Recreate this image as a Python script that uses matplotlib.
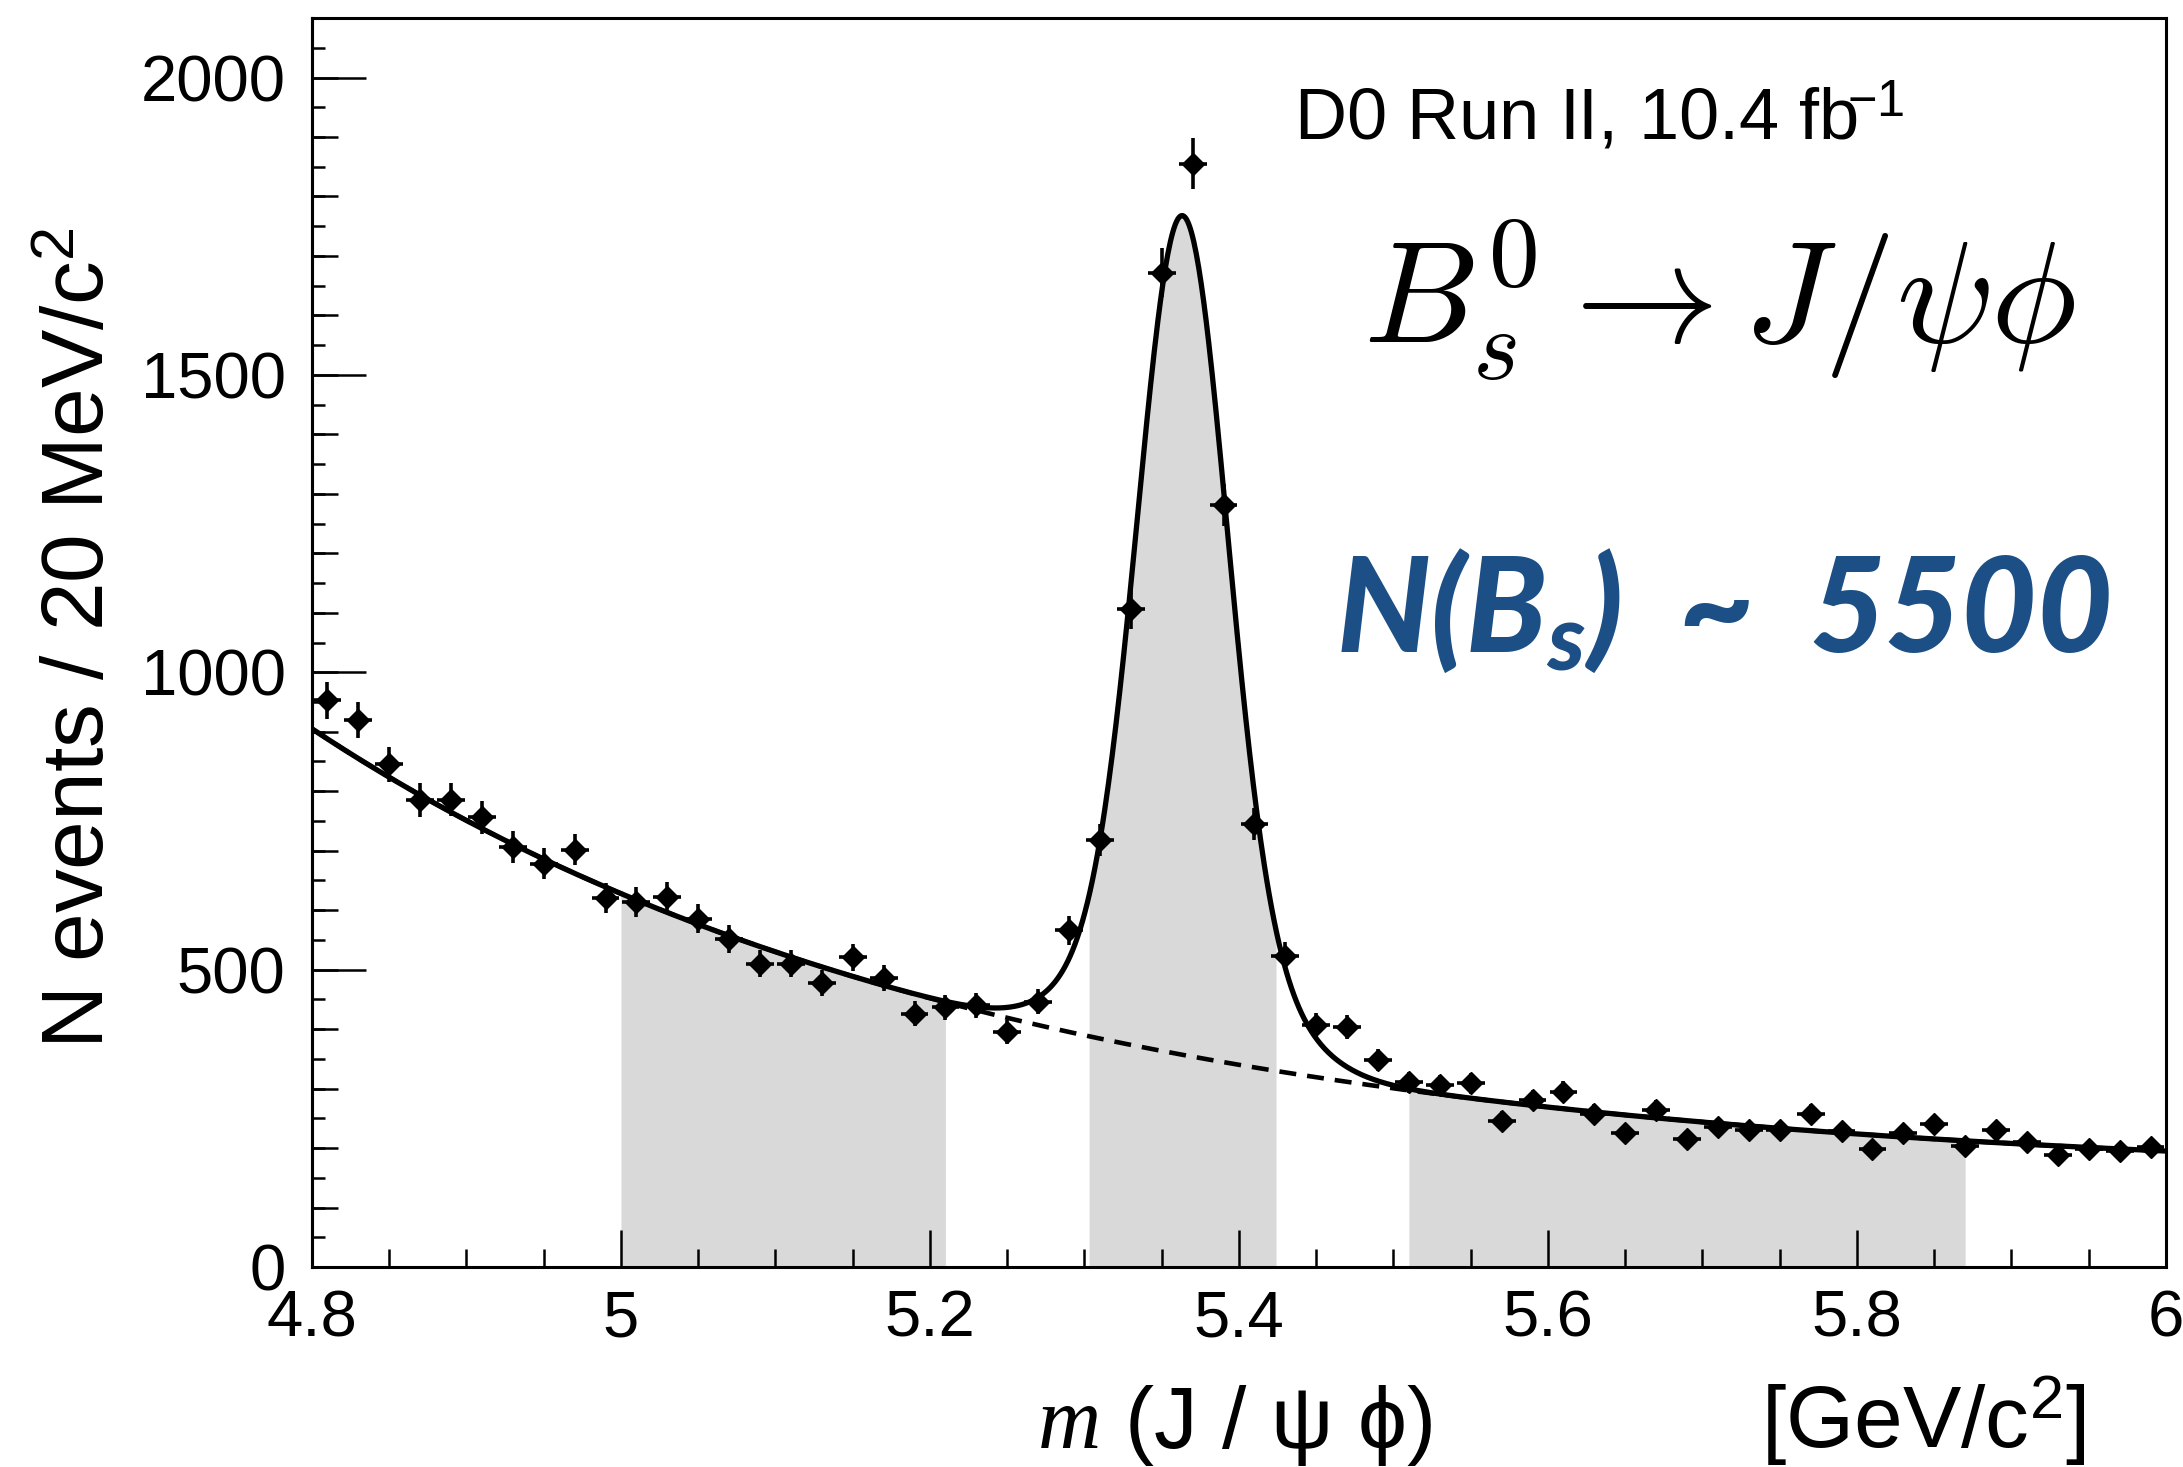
import matplotlib

matplotlib.use("Agg")

import matplotlib.pyplot as plt  # noqa: E402
import numpy as np  # noqa: E402
from matplotlib.ticker import FixedLocator, MultipleLocator, NullFormatter  # noqa: E402

# --- data: J/psi phi invariant mass, 20 MeV bins ---
MASS = [
    4.81, 4.83, 4.85, 4.87, 4.89, 4.91, 4.93, 4.95, 4.97, 4.99,
    5.01, 5.03, 5.05, 5.07, 5.09, 5.11, 5.13, 5.15, 5.17, 5.19,
    5.21, 5.23, 5.25, 5.27, 5.29, 5.31, 5.33, 5.35, 5.37, 5.39,
    5.41, 5.43, 5.45, 5.47, 5.49, 5.51, 5.53, 5.55, 5.57, 5.59,
    5.61, 5.63, 5.65, 5.67, 5.69, 5.71, 5.73, 5.75, 5.77, 5.79,
    5.81, 5.83, 5.85, 5.87, 5.89, 5.91, 5.93, 5.95, 5.97, 5.99,
]
COUNTS = [
    953, 919, 845, 785, 786, 756, 706, 678, 702, 620,
    614, 622, 586, 551, 510, 510, 477, 521, 486, 426,
    437, 440, 395, 446, 566, 718, 1106, 1672, 1855, 1281,
    745, 523, 407, 403, 348, 311, 306, 309, 246, 281,
    295, 258, 226, 264, 216, 236, 230, 230, 258, 228,
    198, 225, 240, 204, 231, 211, 189, 198, 195, 202,
]

# fit parameters
BKG_CONST = 145.0
BKG_AMP = 760.0
BKG_SLOPE = 2.267
BKG_ORIGIN = 4.8
SIG_PEAK = 1411.0
SIG_MEAN = 5.3635
SIG_SIGMA_CORE = 0.028
SIG_SIGMA_WIDE = 0.048
SIG_CORE_FRAC = 0.8

# mass windows shaded under the fit
SHADED_WINDOWS = [(5.00, 5.21), (5.303, 5.424), (5.51, 5.87)]

X_TICKS = [4.8, 5.0, 5.2, 5.4, 5.6, 5.8, 6.0]
X_TICK_LABELS = ["4.8", "5", "5.2", "5.4", "5.6", "5.8", "6"]
Y_TICKS = [0, 500, 1000, 1500, 2000]

SHADE = "#d9d9d9"
BLUE = "#1b4f86"
PX = 72 / 100  # points per pixel at dpi 100

plt.rcParams["font.family"] = ["Liberation Sans", "DejaVu Sans"]
plt.rcParams["mathtext.fontset"] = "custom"
plt.rcParams["mathtext.rm"] = "Liberation Sans"
plt.rcParams["mathtext.it"] = "Liberation Serif:italic"


def background(m):
    return BKG_CONST + BKG_AMP * np.exp(-BKG_SLOPE * (m - BKG_ORIGIN))


def signal(m):
    core = np.exp(-0.5 * ((m - SIG_MEAN) / SIG_SIGMA_CORE) ** 2)
    wide = np.exp(-0.5 * ((m - SIG_MEAN) / SIG_SIGMA_WIDE) ** 2)
    return SIG_PEAK * (SIG_CORE_FRAC * core + (1 - SIG_CORE_FRAC) * wide)


def total(m):
    return background(m) + signal(m)


fig = plt.figure(figsize=(21.83, 14.67), dpi=100)
ax = fig.add_axes([0.1429, 0.1363, 0.8493, 0.8514])
ax.set_xlim(4.8, 6.0)
ax.set_ylim(0, 2100)

for lo, hi in SHADED_WINDOWS:
    g = np.linspace(lo, hi, 300)
    ax.fill_between(g, 0, total(g), color=SHADE, linewidth=0, zorder=1)

grid = np.linspace(4.8, 6.0, 1500)
ax.plot(grid, background(grid), color="k", linewidth=3.3, dashes=(3.7, 2.4), zorder=2)
ax.plot(grid, total(grid), color="k", linewidth=3.8, zorder=3)

counts = np.asarray(COUNTS, dtype=float)
ax.errorbar(MASS, counts, yerr=np.sqrt(counts), xerr=0.009, fmt="D", ms=11,
            color="k", elinewidth=2.6, capsize=0, zorder=4)

# ROOT-style frame: ticks inside, on left and bottom only
for s in ax.spines.values():
    s.set_linewidth(2.2)
ax.xaxis.set_major_locator(FixedLocator(X_TICKS))
ax.set_xticklabels(X_TICK_LABELS)
ax.xaxis.set_minor_locator(MultipleLocator(0.05))
ax.yaxis.set_major_locator(FixedLocator(Y_TICKS))
ax.yaxis.set_minor_locator(MultipleLocator(50))
ax.tick_params(which="both", direction="in", top=False, right=False, width=1.8,
               colors="k", labelsize=47)
ax.tick_params(axis="x", which="major", length=37 * PX, pad=16)
ax.tick_params(axis="x", which="minor", length=18 * PX)
ax.tick_params(axis="y", which="major", length=54 * PX, pad=19)
ax.tick_params(axis="y", which="minor", length=13 * PX)

# middle tick level (every 100) on the y axis
sec = ax.secondary_yaxis("left")
sec.yaxis.set_major_locator(MultipleLocator(100))
sec.yaxis.set_major_formatter(NullFormatter())
sec.tick_params(direction="in", length=26 * PX, width=1.8)
sec.spines["left"].set_linewidth(2.2)

fig.text(0.0375, 0.565, r"N events / 20 MeV/c$^{\mathregular{2}}$", rotation=90,
         ha="center", va="center", fontsize=63)
fig.text(0.475, 0.013, r"$\mathit{m}$ (J / ψ ϕ)", ha="left", va="baseline", fontsize=63)
fig.text(0.8067, 0.013, r"[GeV/c$^{\mathregular{2}}$]", ha="left", va="baseline", fontsize=63)

fig.text(0.5928, 0.9052, r"D0 Run II, 10.4 fb$^{\!\!\mathregular{-1}}$", ha="left",
         va="baseline", fontsize=52)
fig.text(0.6245, 0.7669, r"$B_s^0 \rightarrow J/\psi\phi$", ha="left", va="baseline",
         fontsize=104, math_fontfamily="cm")
fig.text(0.612, 0.5556, r"N(B$_{\mathregular{s}}$)  ~  5500", ha="left", va="baseline",
         fontsize=94, family="Lato", weight="black", style="italic", color=BLUE)

fig.savefig("out.png", dpi=100, facecolor="white")
